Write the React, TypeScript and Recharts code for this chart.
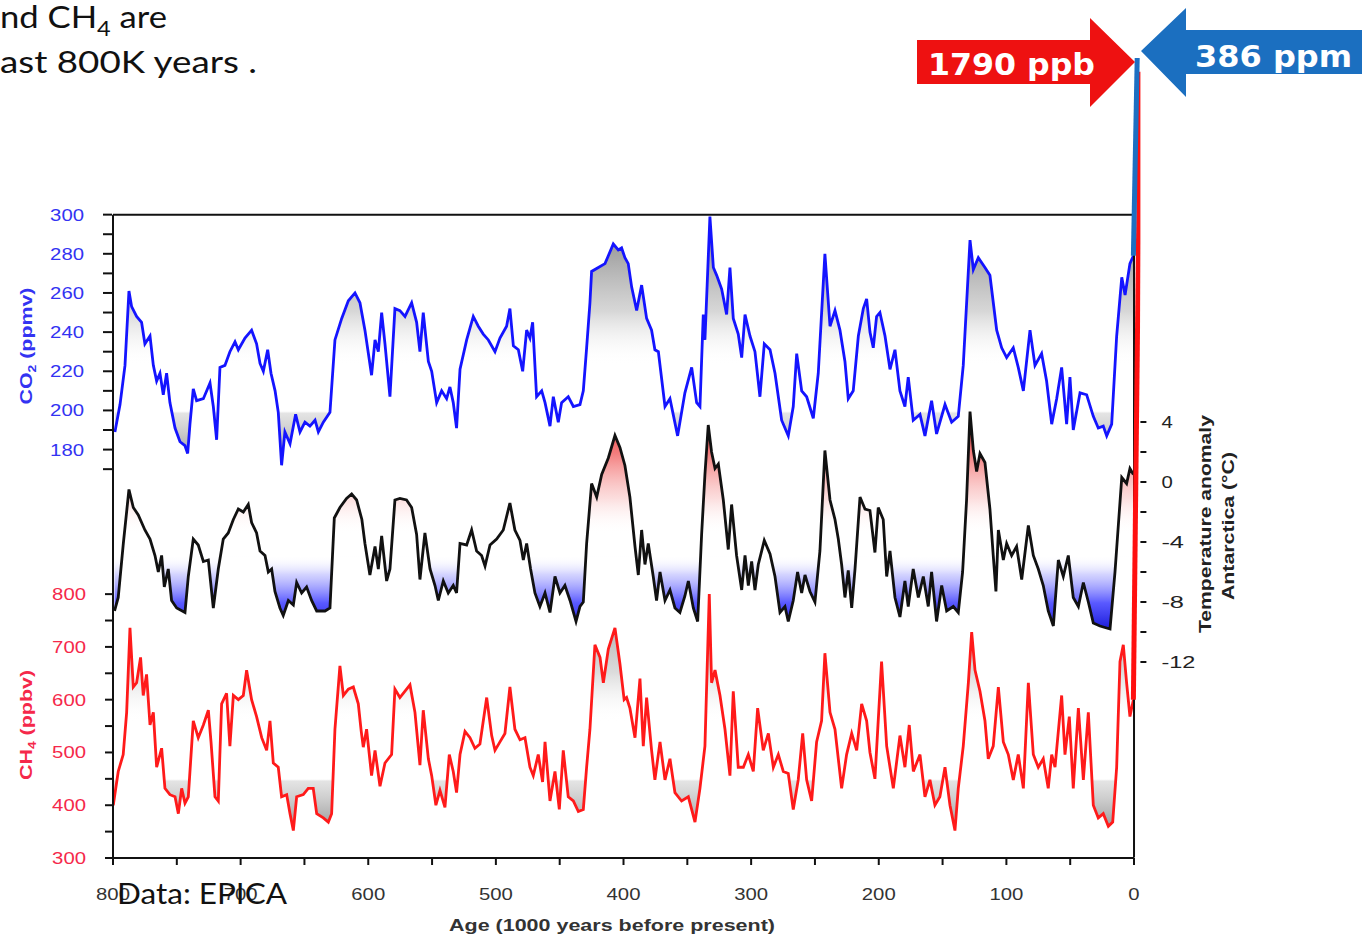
import React from "react";
import { Area, ComposedChart, Line, ReferenceLine, XAxis, YAxis } from "recharts";

// EPICA Dome C records (age in kyr before present)
const co2Ages = [
  798.5, 794.5, 790.6, 787.5, 785.4, 781.5, 777.6, 775, 771, 768.4,
  765.8, 763.2, 760.6, 758, 755.4, 751.4, 747.5, 743.6, 741.5, 739.7,
  737.1, 734.5, 729.2, 724, 721.4, 718.8, 716.2, 712.3, 708.4, 704.4,
  701.8, 696.6, 691.4, 687.5, 684.8, 682.2, 678.8, 676.2, 673, 670.5,
  667.9, 665.3, 661.3, 656.9, 653.5, 649.6, 645.7, 641.7, 639.1, 635.2,
  630, 626.1, 620.8, 615.6, 610.4, 606.5, 602.6, 597.4, 594.7, 592.1,
  589.5, 586.9, 583, 579.1, 575.2, 571.2, 566, 562.1, 559.5, 556.9,
  552.9, 550.3, 546.4, 542.5, 538.6, 536, 533.4, 530.8, 528.1, 522.9,
  517.7, 513.8, 509.9, 505.9, 500.7, 496.8, 491.6, 489, 486.3, 482.4,
  479, 475.9, 473.3, 471.2, 468.1, 464.1, 461.5, 457.6, 455, 451.1,
  448.5, 443.3, 439.3, 434.1, 431.5, 428.9, 426.3, 425, 419.7, 414.5,
  411.9, 408, 404.1, 401.5, 398.9, 396.3, 393.6, 389.7, 385.8, 381.9,
  378, 375.4, 372.7, 367.5, 363.6, 357.6, 351.9, 346.6, 342.7, 340.1,
  337.5, 336.2, 332.3, 329.6, 327, 323.1, 319.2, 316.6, 314, 310.1,
  307.4, 304.8, 300.9, 297, 293.1, 289.7, 285.2, 281.3, 276.1, 270.9,
  267, 264.3, 260.4, 256.5, 251.3, 247.4, 242.2, 238.2, 234.3, 230.4,
  226.5, 223.9, 220, 216, 212.1, 209.5, 206.9, 204.3, 201.7, 199.1,
  195.1, 191.2, 187.3, 183.4, 179.5, 176.9, 173, 167.7, 163.8, 158.6,
  154.7, 148.1, 142.9, 137.7, 133.8, 128.5, 125.9, 122, 116.8, 112.9,
  107.6, 103.7, 99.8, 94.6, 90.7, 86.7, 81.5, 77.6, 72.4, 68.5,
  64.5, 60.6, 56.7, 52.8, 50.2, 47.6, 42.3, 37.1, 31.9, 28,
  24.1, 21.4, 17.5, 13.6, 9.6, 7, 3.2, 0.5,
];
const co2Values = [
  189, 203, 223, 261, 253, 248, 245, 234, 238, 223,
  215, 219, 208, 219, 204, 191, 184, 182, 178, 193,
  211, 205, 206, 214, 202, 185, 222, 223, 230, 235,
  231, 237, 241, 234, 224, 220, 231, 219, 210, 199,
  172, 189, 183, 198, 189, 194, 192, 195, 189, 194,
  199, 236, 247, 256, 260, 255, 241, 218, 236, 230,
  250, 234, 207, 252, 251, 248, 255, 245, 230, 250,
  225, 220, 204, 210, 206, 212, 204, 191, 221, 236,
  248, 243, 239, 236, 230, 237, 243, 252, 233, 231,
  220, 241, 237, 245, 207, 210, 204, 192, 207, 194,
  204, 207, 202, 203, 210, 232, 255, 271, 273, 275,
  279, 285, 282, 283, 278, 275, 263, 251, 264, 247,
  241, 231, 230, 202, 206, 187, 209, 222, 204, 202,
  249, 236, 299, 273, 269, 262, 249, 273, 247, 239,
  227, 249, 238, 230, 207, 234, 231, 219, 195, 187,
  202, 229, 210, 207, 196, 219, 280, 243, 251, 241,
  225, 206, 210, 238, 252, 257, 240, 232, 248, 250,
  238, 221, 231, 210, 202, 217, 195, 198, 187, 205,
  188, 203, 194, 197, 223, 287, 272, 278, 273, 269,
  241, 232, 227, 232, 222, 210, 241, 223, 229, 215,
  193, 206, 222, 193, 217, 190, 209, 208, 197, 191,
  192, 187, 193, 238, 268, 259, 275, 279,
];

const tempAges = [
  798.8, 795.9, 791.9, 787.5, 784.1, 780.2, 775, 771, 767.1, 764.5,
  761.9, 759.8, 756.7, 754.1, 750.1, 743.6, 741, 737.1, 733.2, 729.2,
  725.3, 721.4, 717.5, 713.6, 709.7, 705.7, 701.8, 697.9, 694, 691.4,
  687.5, 684.8, 680.9, 678.3, 675.7, 673.1, 669.2, 666.6, 662.6, 658.7,
  656.1, 652.2, 648.3, 644.4, 640.4, 633.9, 630, 626.6, 622.2, 617,
  613, 609.1, 605, 602.6, 598.7, 594.7, 592.1, 589.5, 585.6, 583,
  579.1, 575.2, 570, 566, 562.1, 559.5, 555.6, 551.6, 547.7, 545.1,
  541.2, 537.3, 533.4, 530.8, 528.1, 522.9, 519, 515.1, 511.2, 508.5,
  504.6, 499.4, 494.2, 489, 485.1, 481.1, 478.5, 475.9, 472.8, 469.4,
  465.5, 461.5, 457.6, 453.7, 449.8, 445.9, 441.9, 437.2, 434.1, 431.5,
  428.9, 425, 421, 417.1, 411.9, 406.7, 402.8, 398.9, 395, 391,
  388.4, 385.8, 383.2, 380.6, 376.7, 374.1, 371.4, 367.5, 363.6, 359.7,
  355.8, 351.9, 349.2, 345.3, 341.9, 338.8, 336.2, 333.6, 331, 328.3,
  325.7, 321.8, 317.9, 315.3, 311.4, 307.4, 304.8, 302.2, 299.6, 297,
  294.4, 289.7, 285.2, 281.3, 277.4, 273.5, 270.9, 267, 263.6, 260.4,
  257.8, 253.9, 250, 246.1, 242.2, 238.2, 234.3, 231.7, 229.1, 226.5,
  223.9, 221.2, 218.6, 214.7, 210.8, 206.9, 203, 200.4, 196.5, 193.8,
  191.2, 187.3, 183.4, 179.5, 176.9, 173, 169, 165.1, 161.2, 158.6,
  154.7, 150.7, 146.8, 141.6, 137.7, 134.3, 131.2, 128.5, 125.9, 123.3,
  120.7, 116.8, 112.9, 110.3, 108.2, 106.3, 102.4, 99.8, 95.9, 92,
  88, 82.8, 78.9, 75, 71.1, 67.2, 63.2, 59.3, 55.4, 51.5,
  47.6, 43.6, 39.7, 35.8, 31.9, 26.7, 22.8, 18.8, 14.9, 12.3,
  9.6, 5.8, 3.2, 0.5,
];
const tempValues = [
  -8.6, -7.7, -4.1, -0.5, -1.7, -2.2, -3.2, -3.8, -4.9, -6.0,
  -4.9, -7.0, -5.8, -7.9, -8.4, -8.7, -6.3, -3.8, -4.2, -5.3,
  -5.2, -8.4, -5.8, -3.8, -3.4, -2.5, -1.8, -2.0, -1.5, -2.7,
  -3.4, -4.6, -4.9, -6.0, -5.8, -7.3, -8.4, -8.9, -7.9, -8.2,
  -6.7, -7.4, -7.0, -7.9, -8.6, -8.6, -8.4, -2.4, -1.7, -1.1,
  -0.8, -1.2, -2.5, -4.1, -6.2, -4.3, -5.8, -3.6, -6.6, -5.8,
  -1.2, -1.1, -1.2, -1.7, -3.5, -6.5, -3.4, -5.8, -6.9, -7.9,
  -6.6, -7.4, -6.9, -7.4, -4.1, -4.2, -3.2, -4.6, -4.9, -5.6,
  -4.2, -3.8, -3.2, -1.4, -3.2, -3.9, -5.2, -4.1, -5.8, -7.4,
  -8.3, -7.4, -8.7, -6.3, -7.4, -6.9, -7.9, -9.3, -8.3, -8.0,
  -4.1, -0.1, -1.0, 0.5, 1.6, 3.1, 2.3, 1.1, -1.0, -4.3,
  -6.2, -3.2, -5.5, -4.1, -6.3, -7.9, -6.0, -7.9, -7.2, -8.4,
  -8.7, -7.6, -6.6, -8.4, -9.3, -3.5, 0.5, 3.8, 2.0, 0.9,
  1.2, -1.2, -4.5, -1.5, -4.9, -7.2, -4.9, -6.9, -5.3, -7.2,
  -5.5, -3.9, -4.8, -6.3, -8.7, -8.3, -9.3, -7.9, -6.0, -7.4,
  -6.2, -7.3, -8.0, -4.6, 2.1, -1.2, -2.5, -3.8, -5.5, -7.7,
  -5.9, -8.4, -5.8, -1.0, -1.8, -1.9, -4.7, -1.7, -2.5, -6.3,
  -4.6, -7.7, -9.0, -6.6, -8.3, -5.8, -7.7, -6.3, -8.3, -6.0,
  -9.3, -6.9, -8.6, -8.3, -8.7, -6.0, -1.2, 4.7, 2.1, 0.7,
  1.9, 1.3, -1.8, -4.9, -7.3, -3.2, -5.2, -4.1, -4.9, -4.3,
  -6.5, -2.9, -4.9, -5.8, -6.9, -8.6, -9.6, -5.2, -6.3, -4.9,
  -7.7, -8.3, -6.7, -8.0, -9.4, -9.6, -9.7, -9.8, -6.0, -2.9,
  0.3, -0.1, 0.9, 0.5,
];

const ch4Ages = [
  799.8, 795.9, 792, 789.3, 786.7, 784.1, 781.5, 778.4, 776.3, 773.7,
  771, 768.4, 765.8, 761.9, 759.3, 755.4, 751.4, 748.8, 746.2, 743.6,
  741, 737.1, 733.2, 729.2, 725.3, 723.2, 720.1, 717.5, 714.9, 711,
  708.4, 705.7, 701.8, 697.9, 695.3, 691.4, 687.5, 683.5, 679.6, 677,
  674.4, 670.5, 667.9, 663.9, 661.3, 658.7, 656.1, 650.9, 647, 643.1,
  640.4, 635.2, 631.3, 628.7, 626.1, 622.2, 619.5, 615.6, 611.7, 607.8,
  605.5, 603.9, 601.3, 597.4, 594.7, 590.8, 586.9, 581.7, 579.1, 575.2,
  571.2, 567.3, 563.4, 559.5, 556.9, 552.9, 550.3, 547, 543.8, 539.9,
  536.5, 533.4, 530.8, 528.1, 524.2, 520.3, 516.4, 512.5, 507.2, 503.3,
  500.7, 496.8, 492.9, 489, 485.1, 481.1, 477.2, 473.3, 470.7, 466.8,
  463.4, 461.5, 457.6, 453.7, 450.3, 447.2, 443.3, 439.3, 435.4, 431.5,
  428.9, 426.3, 422.4, 418.4, 415.8, 411.9, 406.7, 402.8, 399.5, 397.6,
  395, 391, 387.1, 384.5, 381.9, 378, 375.4, 371.4, 367.5, 363.6,
  359.7, 354.5, 349.2, 344, 340.1, 336.2, 332.8, 331, 328.3, 324.4,
  320.5, 316.6, 314, 310.1, 306.1, 302.2, 298.3, 294.9, 290.5, 286.5,
  282.6, 278.7, 274.8, 270.9, 267, 263.1, 259.6, 256.5, 252.6, 248.7,
  244.8, 242.2, 238.2, 234.3, 229.1, 225.2, 221.2, 217.3, 213.4, 209.5,
  206.9, 203, 197.8, 193.8, 188.6, 183.4, 179.5, 176.1, 172.9, 167.7,
  163.8, 159.9, 156, 152.1, 148.1, 144.2, 140.3, 137.7, 133.8, 129.8,
  127.2, 124.6, 120.7, 116.8, 114.2, 110.3, 106.3, 102.4, 98.5, 94.6,
  90.7, 86.7, 82.8, 78.9, 75, 71.1, 67.2, 64.5, 61.9, 56.7,
  54.1, 50.7, 47.6, 43.6, 39.7, 35.8, 31.9, 28, 24.1, 20.1,
  16.7, 13.6, 11, 8.4, 5.8, 3.2, 0.5,
];
const ch4Values = [
  400, 464, 496, 576, 736, 624, 632, 680, 608, 648,
  552, 576, 472, 508, 432, 420, 416, 384, 432, 404,
  416, 560, 528, 552, 580, 520, 416, 408, 592, 612,
  512, 608, 600, 608, 656, 600, 568, 528, 504, 560,
  480, 472, 416, 420, 384, 352, 416, 420, 432, 432,
  384, 376, 368, 384, 544, 664, 608, 620, 624, 592,
  540, 510, 544, 456, 504, 436, 480, 496, 620, 604,
  616, 628, 576, 476, 580, 488, 456, 400, 428, 396,
  496, 464, 424, 496, 540, 528, 508, 516, 604, 532,
  504, 520, 536, 624, 544, 524, 528, 472, 456, 496,
  444, 520, 408, 464, 392, 504, 416, 408, 388, 392,
  472, 544, 704, 680, 632, 696, 736, 668, 600, 604,
  584, 528, 640, 512, 604, 504, 448, 520, 448, 488,
  424, 408, 416, 368, 432, 512, 800, 632, 656, 608,
  544, 456, 616, 472, 472, 496, 464, 584, 504, 536,
  472, 496, 464, 460, 392, 448, 536, 448, 408, 520,
  560, 688, 576, 544, 432, 496, 536, 504, 592, 560,
  500, 450, 672, 512, 432, 532, 472, 552, 464, 496,
  416, 448, 400, 416, 472, 400, 352, 432, 512, 632,
  728, 656, 616, 560, 488, 512, 624, 520, 496, 448,
  496, 432, 632, 496, 472, 488, 432, 496, 472, 608,
  496, 568, 432, 584, 448, 576, 400, 376, 384, 360,
  368, 472, 672, 704, 632, 568, 600,
];

// recent rise to present-day values
const co2ModernAges = [0.5, -2.5];
const co2ModernValues = [279, 380];
const ch4ModernAges = [0.5, -5];
const ch4ModernValues = [600, 1790];

const ageTicks = [800, 750, 700, 650, 600, 550, 500, 450, 400, 350, 300, 250, 200, 150, 100, 50, 0];
const co2Ticks = [170, 180, 190, 200, 210, 220, 230, 240, 250, 260, 270, 280, 290, 300];
const ch4Ticks = [300, 350, 400, 450, 500, 550, 600, 650, 700, 750, 800];
const tempTicks = [-12, -10, -8, -6, -4, -2, 0, 2, 4];

const CO2_DOMAIN = [-28.6, 389.2];
const CH4_DOMAIN = [300, 1850];
const TEMP_DOMAIN = [-25.07, 29.47];

const FONT = "'Liberation Sans', Arial, sans-serif";

const toPoints = (ages: number[], values: number[]) =>
  ages.map((age, i) => ({ age, value: values[i] }));

const co2Points = toPoints(co2Ages, co2Values);
const tempPoints = toPoints(tempAges, tempValues);
const ch4Points = toPoints(ch4Ages, ch4Values);
const co2Modern = toPoints(co2ModernAges, co2ModernValues);
const ch4Modern = toPoints(ch4ModernAges, ch4ModernValues);

const makeTick =
  (show: (v: number) => boolean, color: string, anchor: "start" | "end" | "middle", dy: number) =>
  (props: any) => {
    const { x, y, payload } = props;
    const v = payload.value;
    if (!show(v)) return <g />;
    const label = String(v);
    return (
      <text
        x={x}
        y={y}
        dy={dy}
        textAnchor={anchor}
        fontFamily={FONT}
        fontSize={17}
        fill={color}
        textLength={label.length * 11.3}
        lengthAdjust="spacingAndGlyphs"
      >
        {label}
      </text>
    );
  };

const AgeTick = makeTick((v) => v % 100 === 0, "#333", "middle", 6);
const Co2Tick = makeTick((v) => v >= 180 && v % 20 === 0, "#3333f2", "end", 6);
const Ch4Tick = makeTick((v) => v % 100 === 0, "#f5284a", "end", 6);
const TempTick = makeTick((v) => v % 4 === 0, "#222", "start", 6);

const frame = { stroke: "#111", strokeWidth: 2 };

const Annotations = () => (
  <svg
    width={1368}
    height={939}
    style={{ position: "absolute", left: 0, top: 0, pointerEvents: "none" }}
  >
    <g fontFamily="Lato, 'Open Sans', sans-serif" fill="#111">
      <text x={0} y={28} fontSize={31} textLength={167} lengthAdjust="spacingAndGlyphs">
        nd CH<tspan fontSize={21} dy={8}>4</tspan>
        <tspan dy={-8}> are</tspan>
      </text>
      <text x={0} y={73} fontSize={31} textLength={257} lengthAdjust="spacingAndGlyphs">
        ast 800K years .
      </text>
      <text x={117} y={904} fontSize={29} textLength={170} lengthAdjust="spacingAndGlyphs">
        Data: EPICA
      </text>
    </g>

    <polygon points="917,40 1090,40 1090,18 1135,62 1090,107 1090,84 917,84" fill="#ee1111" />
    <text
      x={928}
      y={75}
      fontFamily="'DejaVu Sans', Verdana, sans-serif"
      fontWeight="bold"
      fontSize={30}
      fill="#fff"
      textLength={167}
      lengthAdjust="spacingAndGlyphs"
    >
      1790 ppb
    </text>
    <polygon points="1141,51 1186,8 1186,30 1362,30 1362,74 1186,74 1186,97" fill="#1b6fc0" />
    <text
      x={1195}
      y={67}
      fontFamily="'DejaVu Sans', Verdana, sans-serif"
      fontWeight="bold"
      fontSize={30}
      fill="#fff"
      textLength={157}
      lengthAdjust="spacingAndGlyphs"
    >
      386 ppm
    </text>

    <g fontFamily={FONT} fontWeight="bold" fontSize={17} textAnchor="middle">
      <text transform="translate(32,346) rotate(-90)" fill="#3333f2" textLength={117} lengthAdjust="spacingAndGlyphs">
        CO<tspan fontSize={11} dy={4}>2</tspan>
        <tspan dy={-4}> (ppmv)</tspan>
      </text>
      <text transform="translate(32,725) rotate(-90)" fill="#f5284a" textLength={110} lengthAdjust="spacingAndGlyphs">
        CH<tspan fontSize={11} dy={4}>4</tspan>
        <tspan dy={-4}> (ppbv)</tspan>
      </text>
      <text transform="translate(1211,524) rotate(-90)" fill="#222" textLength={218} lengthAdjust="spacingAndGlyphs">
        Temperature anomaly
      </text>
      <text transform="translate(1234,526) rotate(-90)" fill="#222" textLength={148} lengthAdjust="spacingAndGlyphs">
        Antarctica (°C)
      </text>
      <text x={612} y={931} fill="#333" textLength={326} lengthAdjust="spacingAndGlyphs">
        Age (1000 years before present)
      </text>
    </g>
  </svg>
);

const App: React.FC = () => {
  return (
    <div
      style={{
        position: "absolute",
        left: 0,
        top: 0,
        width: 1368,
        height: 939,
        background: "#fff",
      }}
    >
      <ComposedChart
        width={1368}
        height={939}
        margin={{ top: 40, right: 226.6, bottom: 80, left: 111 }}
      >
        <defs>
          <linearGradient id="co2Fill" x1="0" y1="0" x2="0" y2="1">
            <stop offset="0" stopColor="#6e6e6e" stopOpacity={0.9} />
            <stop offset="0.38" stopColor="#9a9a9a" stopOpacity={0.4} />
            <stop offset="0.6" stopColor="#ffffff" stopOpacity={0} />
            <stop offset="0.78" stopColor="#ffffff" stopOpacity={0} />
            <stop offset="0.79" stopColor="#c4c4c4" stopOpacity={0.45} />
            <stop offset="1" stopColor="#777" stopOpacity={0.85} />
          </linearGradient>
          <linearGradient id="tempFill" x1="0" y1="0" x2="0" y2="1">
            <stop offset="0" stopColor="#e01818" stopOpacity={0.9} />
            <stop offset="0.19" stopColor="#ee4444" stopOpacity={0.7} />
            <stop offset="0.4" stopColor="#f6a0a0" stopOpacity={0.35} />
            <stop offset="0.56" stopColor="#ffffff" stopOpacity={0} />
            <stop offset="0.66" stopColor="#ffffff" stopOpacity={0} />
            <stop offset="0.75" stopColor="#8080ff" stopOpacity={0.35} />
            <stop offset="0.88" stopColor="#3030ff" stopOpacity={0.8} />
            <stop offset="1" stopColor="#1010d8" stopOpacity={0.95} />
          </linearGradient>
          <linearGradient id="ch4Fill" x1="0" y1="0" x2="0" y2="1">
            <stop offset="0" stopColor="#666" stopOpacity={0.7} />
            <stop offset="0.33" stopColor="#999" stopOpacity={0.35} />
            <stop offset="0.54" stopColor="#ffffff" stopOpacity={0} />
            <stop offset="0.78" stopColor="#ffffff" stopOpacity={0} />
            <stop offset="0.79" stopColor="#bbb" stopOpacity={0.4} />
            <stop offset="1" stopColor="#808080" stopOpacity={0.85} />
          </linearGradient>
        </defs>

        <XAxis
          dataKey="age"
          type="number"
          domain={[-5, 800]}
          reversed
          allowDataOverflow
          ticks={ageTicks}
          interval={0}
          height={1}
          axisLine={false}
          tickLine={frame}
          tickSize={7}
          tickMargin={29}
          tick={AgeTick}
        />
        <YAxis
          yAxisId="co2"
          orientation="left"
          width={1}
          type="number"
          domain={CO2_DOMAIN}
          allowDataOverflow
          ticks={co2Ticks}
          interval={0}
          axisLine={false}
          tickLine={frame}
          tickSize={9}
          tickMargin={19}
          tick={Co2Tick}
        />
        <YAxis
          yAxisId="ch4"
          orientation="left"
          width={1}
          type="number"
          domain={CH4_DOMAIN}
          allowDataOverflow
          ticks={ch4Ticks}
          interval={0}
          axisLine={false}
          tickLine={frame}
          tickSize={8}
          tickMargin={19}
          tick={Ch4Tick}
        />
        <YAxis
          yAxisId="temp"
          orientation="right"
          width={1}
          type="number"
          domain={TEMP_DOMAIN}
          allowDataOverflow
          ticks={tempTicks}
          interval={0}
          axisLine={false}
          tickLine={frame}
          tickSize={6}
          tickMargin={15}
          tick={TempTick}
        />

        <Area
          yAxisId="co2"
          data={co2Points}
          dataKey="value"
          type="linear"
          baseValue={210}
          stroke="#1414ff"
          strokeWidth={2.8}
          fill="url(#co2Fill)"
          fillOpacity={1}
          dot={false}
          activeDot={false}
          isAnimationActive={false}
        />
        <Area
          yAxisId="temp"
          data={tempPoints}
          dataKey="value"
          type="linear"
          baseValue={-5}
          stroke="#111"
          strokeWidth={2.8}
          fill="url(#tempFill)"
          fillOpacity={1}
          dot={false}
          activeDot={false}
          isAnimationActive={false}
        />
        <Area
          yAxisId="ch4"
          data={ch4Points}
          dataKey="value"
          type="linear"
          baseValue={450}
          stroke="#ff1a1a"
          strokeWidth={2.8}
          fill="url(#ch4Fill)"
          fillOpacity={1}
          dot={false}
          activeDot={false}
          isAnimationActive={false}
        />

        <ReferenceLine yAxisId="co2" segment={[{ x: 800, y: 300 }, { x: 0, y: 300 }]} {...frame} />
        <ReferenceLine yAxisId="ch4" segment={[{ x: 800, y: 300 }, { x: 0, y: 300 }]} {...frame} />
        <ReferenceLine yAxisId="co2" segment={[{ x: 800, y: CO2_DOMAIN[0] + 0.2 }, { x: 800, y: 300 }]} {...frame} />
        <ReferenceLine yAxisId="co2" segment={[{ x: 0, y: CO2_DOMAIN[0] + 0.2 }, { x: 0, y: 300 }]} {...frame} />

        <Line
          yAxisId="ch4"
          data={ch4Modern}
          dataKey="value"
          type="linear"
          stroke="#ff1010"
          strokeWidth={5}
          dot={false}
          activeDot={false}
          isAnimationActive={false}
        />
        <Line
          yAxisId="co2"
          data={co2Modern}
          dataKey="value"
          type="linear"
          stroke="#1d6fc2"
          strokeWidth={5}
          dot={false}
          activeDot={false}
          isAnimationActive={false}
        />
      </ComposedChart>
      <Annotations />
    </div>
  );
};

export default App;
